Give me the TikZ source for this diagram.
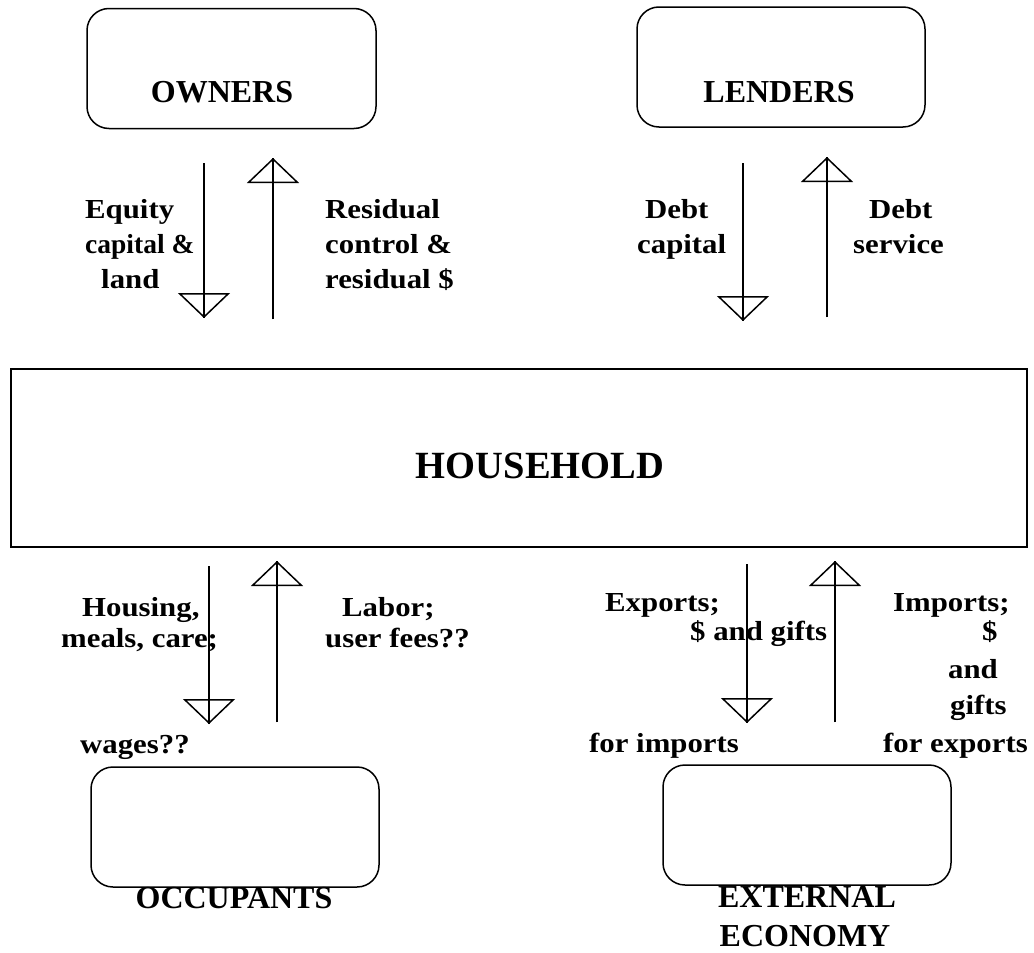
\documentclass[tikz,border=0pt]{standalone}
\usepackage{fontspec}
\setmainfont{Liberation Serif}
\newfontfamily\flowfont{Liberation Serif}[FakeStretch=1.12]
\usetikzlibrary{arrows.meta}

\tikzset{
  party/.style={draw, line width=1.5pt, rounded corners=22pt,
    minimum width=288pt, minimum height=120pt, inner sep=0pt},
  core/.style={draw, line width=2pt, minimum width=1016pt,
    minimum height=178pt, inner sep=0pt},
  head/.style={font=\fontsize{32}{39}\selectfont\bfseries, anchor=base, inner sep=0pt},
  lbl/.style={font=\flowfont\fontsize{27.5}{35}\selectfont\bfseries, anchor=base west, inner sep=0pt},
  lblplain/.style={lbl, font=\rmfamily\fontsize{27.5}{35}\selectfont\bfseries},
  flow/.style={line width=1.5pt, -{Triangle[open, width=52pt, length=25pt]},
    postaction={draw, -}}
}

\begin{document}
\begin{tikzpicture}[x=1pt, y=-1pt]
  \useasboundingbox (0,0) rectangle (1034,953);

  % boxes
  \node[party, minimum width=289pt] (owners) at (231.5,68.5) {};
  \node[party] (lenders) at (781,67) {};
  \node[core] (household) at (519,458) {};
  \node[party] (occupants) at (235,827) {};
  \node[party] (external) at (807,825) {};

  \node[head] (ownerstxt) at (222,102) {OWNERS};
  \node[head] (lenderstxt) at (779,102) {LENDERS};
  \node[head, font=\fontsize{38.5}{46}\selectfont\bfseries] (householdtxt) at (540,478) {HOUSEHOLD};
  \node[head] (occupantstxt) at (234,908) {OCCUPANTS};
  \node[head] (externaltxt) at (807,907) {EXTERNAL};
  \node[head] (economytxt) at (805,946) {ECONOMY};

  % flows
  \coordinate (eqA) at (204,163);
  \coordinate (eqB) at (204,318);
  \coordinate (resA) at (273,319);
  \coordinate (resB) at (273,158);
  \coordinate (dcA) at (743,163);
  \coordinate (dcB) at (743,321);
  \coordinate (dsA) at (827,317);
  \coordinate (dsB) at (827,157);
  \coordinate (hoA) at (209,566);
  \coordinate (hoB) at (209,724);
  \coordinate (laA) at (277,722);
  \coordinate (laB) at (277,561);
  \coordinate (exA) at (747,564);
  \coordinate (exB) at (747,723);
  \coordinate (imA) at (835,722);
  \coordinate (imB) at (835,561);

  \draw[flow] (eqA) -- (eqB);
  \draw[flow] (resA) -- (resB);
  \draw[flow] (dcA) -- (dcB);
  \draw[flow] (dsA) -- (dsB);
  \draw[flow] (hoA) -- (hoB);
  \draw[flow] (laA) -- (laB);
  \draw[flow] (exA) -- (exB);
  \draw[flow] (imA) -- (imB);

  % labels
  \node[lbl] (eq1) at (85,218) {Equity};
  \node[lblplain] (eq2) at (85,253) {capital \&};
  \node[lbl] (eq3) at (101,288) {land};

  \node[lbl] (res1) at (325,218) {Residual};
  \node[lbl] (res2) at (325,253) {control \&};
  \node[lbl] (res3) at (325,288) {residual \$};

  \node[lbl] (dc1) at (645,218) {Debt};
  \node[lbl] (dc2) at (637,253) {capital};

  \node[lbl] (ds1) at (869,218) {Debt};
  \node[lbl] (ds2) at (853,253) {service};

  \node[lbl] (ho1) at (82,616) {Housing,};
  \node[lbl] (ho2) at (61,647) {meals, care;};
  \node[lbl] (ho3) at (80,753) {wages??};

  \node[lbl] (la1) at (342,616) {Labor;};
  \node[lbl] (la2) at (325,647) {user fees??};

  \node[lbl] (ex1) at (605,611) {Exports;};
  \node[lbl] (ex2) at (690,640) {\$ and gifts};
  \node[lbl] (ex3) at (589,752) {for imports};

  \node[lbl] (im1) at (893,611) {Imports;};
  \node[lbl] (im2) at (982,640) {\$};
  \node[lbl] (im3) at (948,678) {and};
  \node[lbl] (im4) at (950,714) {gifts};
  \node[lbl] (im5) at (883,752) {for exports};
\end{tikzpicture}
\end{document}
